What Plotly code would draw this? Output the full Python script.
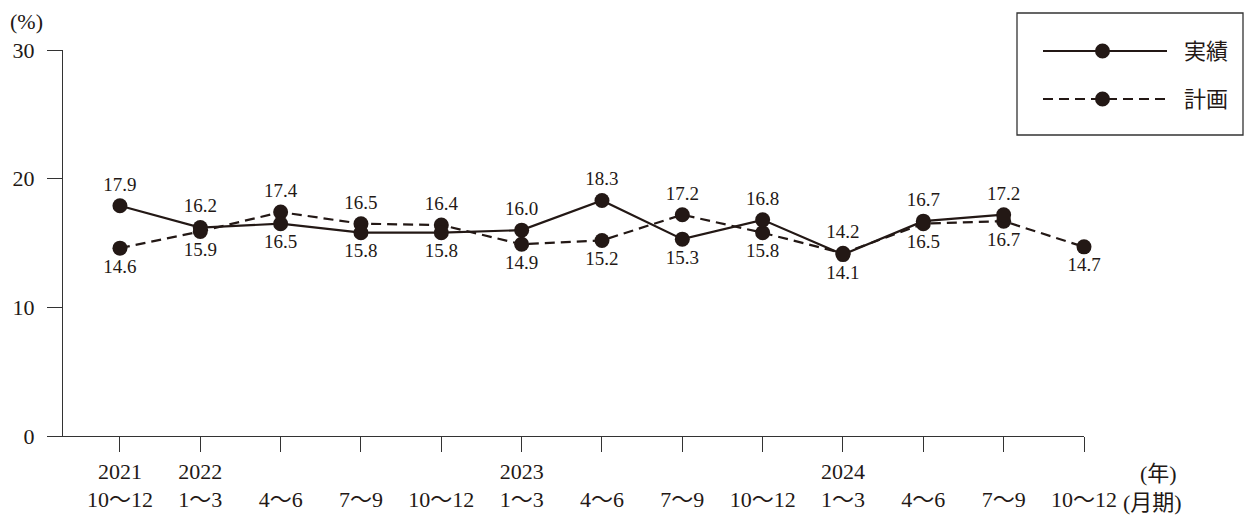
import plotly.graph_objects as go

# ---- data ----
years = ["2021", "2022", "", "", "", "2023", "", "", "", "2024", "", "", ""]
quarters = ["10～12", "1～3", "4～6", "7～9", "10～12", "1～3", "4～6", "7～9", "10～12",
            "1～3", "4～6", "7～9", "10～12"]
actual = [17.9, 16.2, 16.5, 15.8, 15.8, 16.0, 18.3, 15.3, 16.8, 14.1, 16.7, 17.2, None]
plan = [14.6, 15.9, 17.4, 16.5, 16.4, 14.9, 15.2, 17.2, 15.8, 14.2, 16.5, 16.7, 14.7]
names = ["実績", "計画"]

INK = "#231815"
FONT = "Liberation Serif, Noto Sans CJK JP, serif"

W, H = 1250, 519
L, R, T, B = 63, 1084, 50, 436  # plot-area pixel box


def px(x):
    return (x - L) / (R - L)


def py(y):
    return 1 - (y - T) / (B - T)


xs = list(range(len(quarters)))
ticktext = [(y if y else " ") + "<br>" + q for y, q in zip(years, quarters)]


def positions(vals, other):
    out = []
    for v, o in zip(vals, other):
        if v is None or o is None:
            out.append("bottom center")
        else:
            out.append("top center" if v >= o else "bottom center")
    return out


def labels(vals):
    return ["" if v is None else f"{v:.1f}" for v in vals]


fig = go.Figure()
fig.add_trace(go.Scatter(
    x=xs, y=plan, mode="lines+markers+text", name=names[1],
    line=dict(color=INK, width=2.2, dash="10px,6px"),
    marker=dict(color=INK, size=15),
    text=labels(plan), textposition=positions(plan, actual),
    textfont=dict(family=FONT, size=19, color=INK),
    cliponaxis=False, showlegend=False,
))
fig.add_trace(go.Scatter(
    x=xs, y=actual, mode="lines+markers+text", name=names[0],
    line=dict(color=INK, width=2.2),
    marker=dict(color=INK, size=15),
    text=labels(actual), textposition=positions(actual, plan),
    textfont=dict(family=FONT, size=19, color=INK),
    cliponaxis=False, showlegend=False,
))

fig.update_layout(
    width=W, height=H,
    margin=dict(l=L, r=W - R, t=T, b=H - B, autoexpand=False),
    paper_bgcolor="white", plot_bgcolor="white",
    font=dict(family=FONT, size=22, color=INK),
    xaxis=dict(range=[-0.709, 12], tickvals=xs, ticktext=ticktext, automargin=False,
               showline=True, linecolor="#333", linewidth=1.3,
               ticks="outside", ticklen=15, tickcolor="#333", tickwidth=1.3,
               showgrid=False, zeroline=False, tickfont=dict(size=22)),
    yaxis=dict(range=[0, 30], tickvals=[0, 10, 20, 30], automargin=False,
               showline=True, linecolor="#333", linewidth=1.3,
               ticks="outside", ticklen=15, tickcolor="#333", tickwidth=1.3,
               showgrid=False, zeroline=False, tickfont=dict(size=22),
               ticklabelstandoff=8),
)

annos = [
    dict(text="(%)", x=px(8), y=py(22), xanchor="left", yanchor="middle"),
    dict(text="(年)", x=px(1158), y=py(474), xanchor="center", yanchor="middle"),
    dict(text="(月期)", x=px(1121), y=py(502), xanchor="left", yanchor="middle"),
    dict(text=names[0], x=px(1182), y=py(51), xanchor="left", yanchor="middle"),
    dict(text=names[1], x=px(1182), y=py(99), xanchor="left", yanchor="middle"),
]
for a in annos:
    fig.add_annotation(xref="paper", yref="paper", showarrow=False,
                       font=dict(family=FONT, size=22, color=INK), **a)

# legend box (manual, to get long sample lines)
shapes = [
    dict(type="rect", x0=px(1017), x1=px(1243), y0=py(13), y1=py(135),
         line=dict(color="#333", width=1.3)),
    dict(type="line", x0=px(1043), x1=px(1167), y0=py(51), y1=py(51),
         line=dict(color=INK, width=2.2)),
    dict(type="line", x0=px(1043), x1=px(1167), y0=py(99), y1=py(99),
         line=dict(color=INK, width=2.2, dash="10px,6px")),
]
for cy in (51, 99):
    shapes.append(dict(type="circle", x0=px(1095), x1=px(1110), y0=py(cy - 7.5), y1=py(cy + 7.5),
                       fillcolor=INK, line=dict(color=INK, width=0)))
for s in shapes:
    fig.add_shape(xref="paper", yref="paper", **s)

fig.write_html("out.html", config={"displayModeBar": False},
               post_script="document.body.style.margin='0';")
